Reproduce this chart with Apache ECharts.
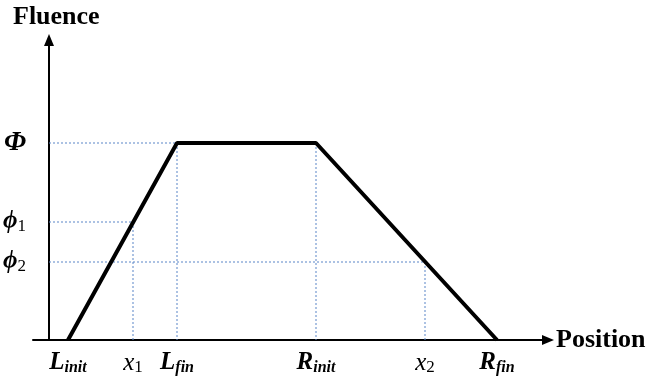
<!DOCTYPE html>
<html><head><meta charset="utf-8">
<script src="https://cdn.jsdelivr.net/npm/echarts@6/dist/echarts.min.js"></script>
<style>html,body{margin:0;padding:0;background:#fff}#c{width:665px;height:381px}</style>
</head><body><div id="c"></div>
<script>
// Positions along the x axis (arbitrary units)
const xKeys = ['Linit', 'x1', 'Lfin', 'Rinit', 'x2', 'Rfin'];
const xVals = [19, 84, 128, 267, 376, 448];
// Fluence levels
const yKeys = ['Phi', 'phi1', 'phi2'];
const yVals = [197, 118, 78];
const xLabels = ['{b|L}{bs|init}', '{i|x}{s|1}', '{b|L}{bs|fin}', '{b|R}{bs|init}', '{i|x}{s|2}', '{b|R}{bs|fin}'];
const yLabels = ['{P|Φ}', '{p|ϕ}{s|1}', '{p|ϕ}{s|2}'];
// Fluence profile (trapezoid)
const profileX = [19, 128, 267, 448];
const profileY = [0, 197, 197, 0];

const X = k => xVals[xKeys.indexOf(k)];
const Y = k => yVals[yKeys.indexOf(k)];
const guides = [
  [[0, Y('Phi')], [X('Lfin'), Y('Phi')]],
  [[X('Lfin'), Y('Phi')], [X('Lfin'), 0]],
  [[0, Y('phi1')], [X('x1'), Y('phi1')]],
  [[X('x1'), Y('phi1')], [X('x1'), 0]],
  [[0, Y('phi2')], [X('x2'), Y('phi2')]],
  [[X('x2'), Y('phi2')], [X('x2'), 0]],
  [[X('Rinit'), Y('Phi')], [X('Rinit'), 0]]
];
const serif = '"Liberation Serif", "DejaVu Serif", serif';
const rich = {
  b: {fontFamily: serif, fontWeight: 'bold', fontStyle: 'italic', fontSize: 25, color: '#000'},
  bs: {fontFamily: serif, fontWeight: 'bold', fontStyle: 'italic', fontSize: 16, color: '#000', verticalAlign: 'bottom', padding: [10, 0, 0, 0]},
  i: {fontFamily: serif, fontStyle: 'italic', fontSize: 25, color: '#000'},
  P: {fontFamily: serif, fontWeight: 'bold', fontStyle: 'italic', fontSize: 28, color: '#000'},
  p: {fontFamily: serif, fontWeight: 'bold', fontStyle: 'italic', fontSize: 25, color: '#000'},
  s: {fontFamily: serif, fontSize: 17, color: '#000', verticalAlign: 'bottom', padding: [9, 0, 0, 0]}
};
const chart = echarts.init(document.getElementById('c'));
const series = [{
  type: 'line', data: profileX.map((x, i) => [x, profileY[i]]), symbol: 'none',
  lineStyle: {color: '#000', width: 4}, z: 5, silent: true
}];
guides.forEach(g => series.push({
  type: 'line', data: g, symbol: 'none', silent: true,
  lineStyle: {color: '#5b86c8', width: 1, type: [2, 2]}, z: 2
}));
chart.setOption({
  animation: false,
  grid: {left: 33, right: 117, top: 40, bottom: 41},
  xAxis: {
    type: 'value', min: -16, max: 499,
    name: 'Position', nameLocation: 'end', nameGap: 8,
    nameTextStyle: {fontFamily: serif, fontWeight: 'bold', fontSize: 26, color: '#000', verticalAlign: 'middle', padding: [4, 0, 0, 0]},
    axisLine: {onZero: true, lineStyle: {color: '#000', width: 2}, symbol: ['none', 'triangle'], symbolSize: [10, 12]},
    axisTick: {show: false}, splitLine: {show: false},
    axisLabel: {customValues: xVals, margin: 10, formatter: v => xLabels[xVals.indexOf(v)] || '', rich: rich}
  },
  yAxis: {
    type: 'value', min: 0, max: 300,
    name: 'Fluence', nameLocation: 'end', nameGap: 10,
    nameTextStyle: {fontFamily: serif, fontWeight: 'bold', fontSize: 26, color: '#000', align: 'left', padding: [0, 0, 0, -36]},
    axisLine: {onZero: true, lineStyle: {color: '#000', width: 2}, symbol: ['none', 'triangle'], symbolSize: [10, 12]},
    axisTick: {show: false}, splitLine: {show: false},
    axisLabel: {customValues: yVals, margin: 7, formatter: v => yLabels[yVals.indexOf(v)] || '', rich: rich}
  },
  series: series
});
</script></body></html>
